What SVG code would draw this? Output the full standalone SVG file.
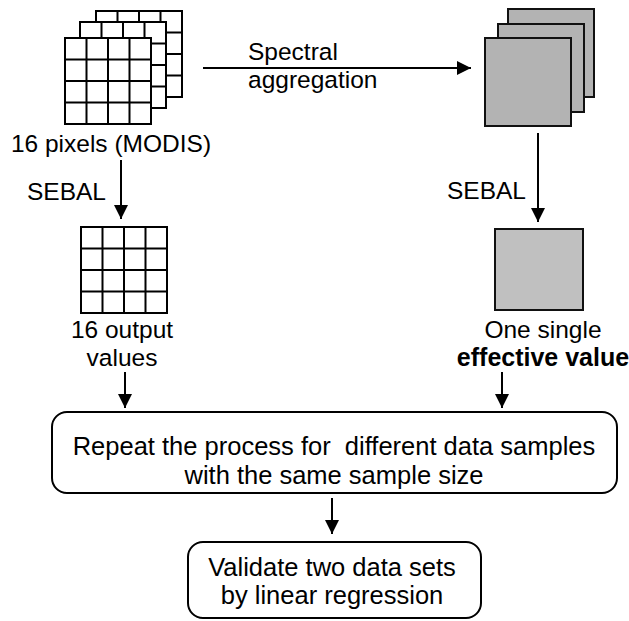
<svg xmlns="http://www.w3.org/2000/svg" width="629" height="621" viewBox="0 0 629 621">
  <defs>
    <marker id="arrow" markerWidth="14" markerHeight="14" refX="14" refY="7" orient="auto" markerUnits="userSpaceOnUse">
      <path d="M0,0 L14,7 L0,14 Z" fill="#000"/>
    </marker>
    <!-- 4x4 pixel grid, 86 px square -->
    <g id="grid">
      <rect x="0" y="0" width="86" height="86" fill="#fff" stroke="#000" stroke-width="2"/>
      <path d="M21.5,0V86M43,0V86M64.5,0V86M0,21.5H86M0,43H86M0,64.5H86" stroke="#000" stroke-width="2" fill="none"/>
    </g>
  </defs>
  <style>
    text { font-family: "Liberation Sans", Arial, sans-serif; font-size: 24.5px; fill: #000; }
    .big { font-size: 25.5px; }
    .mid { text-anchor: middle; }
    .end { text-anchor: end; }
    .bold { font-weight: bold; font-size: 25px; }
    .conn { stroke: #000; stroke-width: 2; fill: none; marker-end: url(#arrow); }
    .box { fill: #fff; stroke: #000; stroke-width: 2; }
    .stack { fill: #b3b3b3; stroke: #111; stroke-width: 2; }
    .single { fill: #c0c0c0; stroke: #111; stroke-width: 2; }
  </style>

  <!-- input pixels: three stacked 4x4 grids -->
  <g id="modis-pixels">
    <use href="#grid" x="96" y="11"/>
    <use href="#grid" x="80" y="22"/>
    <use href="#grid" x="65" y="38"/>
    <text class="mid" x="111" y="152">16 pixels (MODIS)</text>
  </g>

  <!-- aggregated bands: three stacked grey squares -->
  <g id="aggregated">
    <rect class="stack" x="508" y="9" width="86" height="88"/>
    <rect class="stack" x="498" y="24" width="86" height="88"/>
    <rect class="stack" x="485" y="38" width="86" height="88"/>
  </g>

  <!-- SEBAL output per pixel -->
  <g id="output-values">
    <use href="#grid" x="81" y="227"/>
    <text class="mid" x="122" y="338">16 output</text>
    <text class="mid" x="122" y="366">values</text>
  </g>

  <!-- SEBAL output for the aggregated pixel -->
  <g id="effective-value">
    <rect class="single" x="495" y="229" width="88" height="81"/>
    <text class="mid" x="543" y="338">One single</text>
    <text class="mid bold" x="543" y="366">effective value</text>
  </g>

  <g id="repeat">
    <rect class="box" x="52" y="412" width="565" height="81" rx="15"/>
    <text class="mid big" x="334" y="455" xml:space="preserve">Repeat the process for  different data samples</text>
    <text class="mid big" x="334" y="484">with the same sample size</text>
  </g>

  <g id="validate">
    <rect class="box" x="188" y="542" width="293" height="76" rx="15"/>
    <text class="mid big" x="332" y="576">Validate two data sets</text>
    <text class="mid big" x="332" y="604">by linear regression</text>
  </g>

  <g id="connectors">
    <line class="conn" x1="203" y1="68" x2="471" y2="68"/>
    <text x="248" y="60">Spectral</text>
    <text x="248" y="88">aggregation</text>

    <line class="conn" x1="121" y1="160" x2="121" y2="219"/>
    <text class="end" x="106" y="200">SEBAL</text>

    <line class="conn" x1="538" y1="133" x2="538" y2="222"/>
    <text class="end" x="526" y="199">SEBAL</text>

    <line class="conn" x1="125" y1="372" x2="125" y2="408"/>
    <line class="conn" x1="502" y1="372" x2="502" y2="408"/>
    <line class="conn" x1="332" y1="498" x2="332" y2="534"/>
  </g>
</svg>
